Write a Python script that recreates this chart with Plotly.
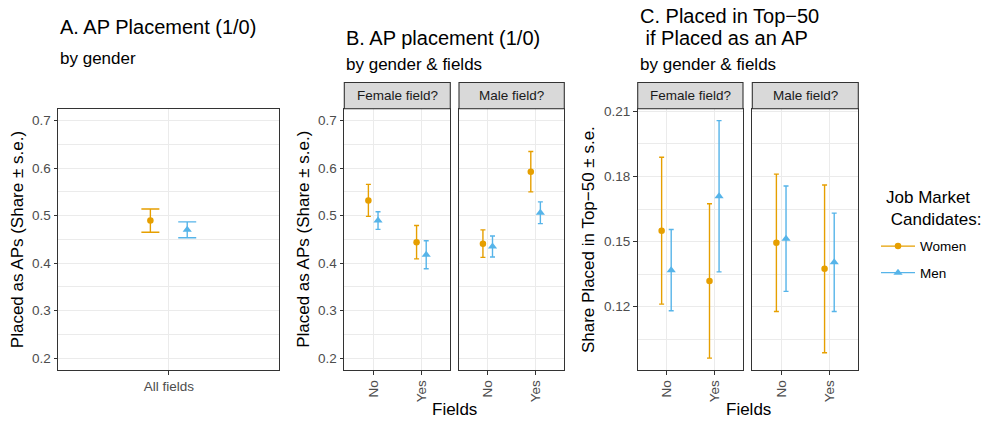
import plotly.graph_objects as go

# ---------------- data ----------------
fields = ["No", "Yes"]
facets = ["Female field?", "Male field?"]
genders = ["Women", "Men"]

a_category = ["All fields"]
a_women_mean = [0.4895]
a_women_se = [0.0245]
a_men_mean = [0.470]
a_men_se = [0.0167]

b_female_women_mean = [0.532, 0.444]
b_female_women_se = [0.0337, 0.035]
b_female_men_mean = [0.4895, 0.4175]
b_female_men_se = [0.0185, 0.0295]
b_male_women_mean = [0.441, 0.5925]
b_male_women_se = [0.029, 0.0425]
b_male_men_mean = [0.435, 0.506]
b_male_men_se = [0.022, 0.0228]

c_female_women_mean = [0.155, 0.1318]
c_female_women_se = [0.0339, 0.0356]
c_female_men_mean = [0.1368, 0.1709]
c_female_men_se = [0.01875, 0.0349]
c_male_women_mean = [0.1494, 0.1374]
c_male_women_se = [0.0317, 0.0387]
c_male_men_mean = [0.1513, 0.1404]
c_male_men_se = [0.0243, 0.0227]

# ---------------- styling / layout helpers ----------------
W, H = 981, 423
FONT = "Liberation Sans, Arial, sans-serif"
COL = {"Women": "#E69F00", "Men": "#56B4E9"}
SYM = {"Women": "circle", "Men": "triangle-up"}
MSIZE = {"Women": 6.5, "Men": 8}
DODGE = {"Women": -0.1, "Men": 0.1}
GRID = "#EBEBEB"
DARK = "#333333"


def fx(p):
    return p / W


def fy(p):
    return 1 - p / H


PANEL_TOP, PANEL_BOT = 105.7, 369.5
STRIP_TOP = 79.3

panels = {
    "A": (58.3, 279.3),
    "B1": (344.3, 450.3),
    "B2": (459.0, 564.3),
    "C1": (637.7, 743.0),
    "C2": (752.3, 858.3),
}

fig = go.Figure()

def add_series(xname, yname, cats, means, ses, gender, cap):
    fig.add_trace(go.Scatter(
        x=[i + DODGE[gender] for i in range(len(cats))],
        y=means,
        mode="markers",
        marker=dict(color=COL[gender], symbol=SYM[gender], size=MSIZE[gender]),
        error_y=dict(type="data", array=ses, color=COL[gender], thickness=1.4, width=cap),
        xaxis=xname, yaxis=yname, showlegend=False, name=gender,
        hoverinfo="skip",
    ))

# Panel A
add_series("x", "y", a_category, a_women_mean, a_women_se, "Women", 9)
add_series("x", "y", a_category, a_men_mean, a_men_se, "Men", 9)
# Panel B
add_series("x2", "y2", fields, b_female_women_mean, b_female_women_se, "Women", 2.5)
add_series("x2", "y2", fields, b_female_men_mean, b_female_men_se, "Men", 2.5)
add_series("x3", "y3", fields, b_male_women_mean, b_male_women_se, "Women", 2.5)
add_series("x3", "y3", fields, b_male_men_mean, b_male_men_se, "Men", 2.5)
# Panel C
add_series("x4", "y4", fields, c_female_women_mean, c_female_women_se, "Women", 2.5)
add_series("x4", "y4", fields, c_female_men_mean, c_female_men_se, "Men", 2.5)
add_series("x5", "y5", fields, c_male_women_mean, c_male_women_se, "Women", 2.5)
add_series("x5", "y5", fields, c_male_men_mean, c_male_men_se, "Men", 2.5)

# legend entries (line + point keys)
for g in genders:
    fig.add_trace(go.Scatter(
        x=[None], y=[None], mode="lines+markers", name=g,
        line=dict(color=COL[g], width=1.4),
        marker=dict(color=COL[g], symbol=SYM[g], size=MSIZE[g]),
        xaxis="x", yaxis="y", showlegend=True, legendgroup=g,
    ))

# y ranges
ab_range = [0.2 - 0.05 * 0.5, 0.7 + 0.05 * 0.5]
c_all_mean = c_female_women_mean + c_female_men_mean + c_male_women_mean + c_male_men_mean
c_all_se = c_female_women_se + c_female_men_se + c_male_women_se + c_male_men_se
c_lo = min(m - s for m, s in zip(c_all_mean, c_all_se))
c_hi = max(m + s for m, s in zip(c_all_mean, c_all_se))
c_pad = 0.05 * (c_hi - c_lo)
c_range = [c_lo - c_pad, c_hi + c_pad]

tickfont = dict(family=FONT, size=13.5, color="#4D4D4D")


def xaxis_cfg(key, cats, angle):
    x0, x1 = panels[key]
    n = len(cats)
    return dict(
        domain=[fx(x0), fx(x1)], range=[-0.6, n - 1 + 0.6],
        tickmode="array", tickvals=list(range(n)), ticktext=cats,
        tickangle=angle, tickfont=tickfont,
        showgrid=True, gridcolor=GRID, gridwidth=1.1, zeroline=False,
        showline=True, mirror=True, linecolor=DARK, linewidth=1.1,
        ticks="outside", ticklen=3.7, tickwidth=1.1, tickcolor=DARK,
        fixedrange=True,
    )


def yaxis_cfg(xanchor, rng, dtick, tick0, fmt, labels=True, match=None):
    d = dict(
        domain=[fy(PANEL_BOT), fy(PANEL_TOP)], range=rng, anchor=xanchor,
        tickmode="linear", dtick=dtick, tick0=tick0, tickformat=fmt,
        tickfont=tickfont, showticklabels=labels,
        showgrid=True, gridcolor=GRID, gridwidth=1.1, zeroline=False,
        minor=dict(dtick=dtick / 2, tick0=tick0 - dtick / 2, showgrid=True,
                   gridcolor=GRID, gridwidth=0.55, ticks=""),
        showline=True, mirror=True, linecolor=DARK, linewidth=1.1,
        ticks="outside" if labels else "", ticklen=3.7, tickwidth=1.1, tickcolor=DARK,
        fixedrange=True,
    )
    if match:
        d["matches"] = match
    return d


fig.update_layout(
    width=W, height=H, autosize=False,
    margin=dict(l=0, r=0, t=0, b=0),
    paper_bgcolor="white", plot_bgcolor="white",
    font=dict(family=FONT, color="black"),
    xaxis=xaxis_cfg("A", a_category, 0),
    xaxis2=xaxis_cfg("B1", fields, -90) | dict(anchor="y2"),
    xaxis3=xaxis_cfg("B2", fields, -90) | dict(anchor="y3"),
    xaxis4=xaxis_cfg("C1", fields, -90) | dict(anchor="y4"),
    xaxis5=xaxis_cfg("C2", fields, -90) | dict(anchor="y5"),
    yaxis=yaxis_cfg("x", ab_range, 0.1, 0.2, ".1f"),
    yaxis2=yaxis_cfg("x2", ab_range, 0.1, 0.2, ".1f"),
    yaxis3=yaxis_cfg("x3", ab_range, 0.1, 0.2, ".1f", labels=False, match="y2"),
    yaxis4=yaxis_cfg("x4", c_range, 0.03, 0.12, ".2f"),
    yaxis5=yaxis_cfg("x5", c_range, 0.03, 0.12, ".2f", labels=False, match="y4"),
    showlegend=True,
    legend=dict(
        x=fx(876), y=fy(229), xanchor="left", yanchor="top",
        font=dict(family=FONT, size=13.5, color="black"),
        bgcolor="rgba(0,0,0,0)", traceorder="grouped", tracegroupgap=6,
        itemwidth=34, itemclick=False, itemdoubleclick=False,
    ),
)

# facet strips
for key, label in [("B1", facets[0]), ("B2", facets[1]), ("C1", facets[0]), ("C2", facets[1])]:
    x0, x1 = panels[key]
    fig.add_shape(type="rect", xref="paper", yref="paper",
                  x0=fx(x0), x1=fx(x1), y0=fy(PANEL_TOP), y1=fy(STRIP_TOP),
                  fillcolor="#D9D9D9", line=dict(color=DARK, width=1.1), layer="above")
    fig.add_annotation(x=fx((x0 + x1) / 2), y=fy((STRIP_TOP + PANEL_TOP) / 2),
                       xref="paper", yref="paper", text=label, showarrow=False,
                       xanchor="center", yanchor="middle",
                       font=dict(family=FONT, size=13.5, color="#1A1A1A"))


def text(x, y, s, size, anchor="left", angle=0, align="left"):
    fig.add_annotation(x=fx(x), y=fy(y), xref="paper", yref="paper", text=s,
                       showarrow=False, xanchor=anchor, yanchor="middle",
                       textangle=angle, align=align,
                       font=dict(family=FONT, size=size, color="black"))


# titles
text(58.3, 23.7, "A. AP Placement (1/0)", 20)
text(58.3, 55.5, "by gender", 17)
text(344.3, 34.7, "B. AP placement (1/0)", 20)
text(344.3, 60.7, "by gender & fields", 17)
text(637.7, 12.3, "C. Placed in Top\u221250", 20)
text(637.7, 34.7, "\u00a0if Placed as an AP", 20)
text(637.7, 60.7, "by gender & fields", 17)

# legend title
text(884, 206, "Job Market<br>\u00a0Candidates:", 17)

# axis titles
mid_y = (PANEL_TOP + PANEL_BOT) / 2
text(17.8, mid_y, "Placed as APs (Share \u00b1 s.e.)", 17, "center", -90, "center")
text(303.5, mid_y, "Placed as APs (Share \u00b1 s.e.)", 17, "center", -90, "center")
text(588.7, mid_y, "Share Placed in Top\u221250 \u00b1 s.e.", 17, "center", -90, "center")
text((panels["B1"][0] + panels["B2"][1]) / 2, 409, "Fields", 17, "center", 0, "center")
text((panels["C1"][0] + panels["C2"][1]) / 2, 409, "Fields", 17, "center", 0, "center")

fig.write_html(
    "out.html",
    config={"displayModeBar": False},
    post_script="document.body.style.margin='0';document.body.style.overflow='hidden';",
)
